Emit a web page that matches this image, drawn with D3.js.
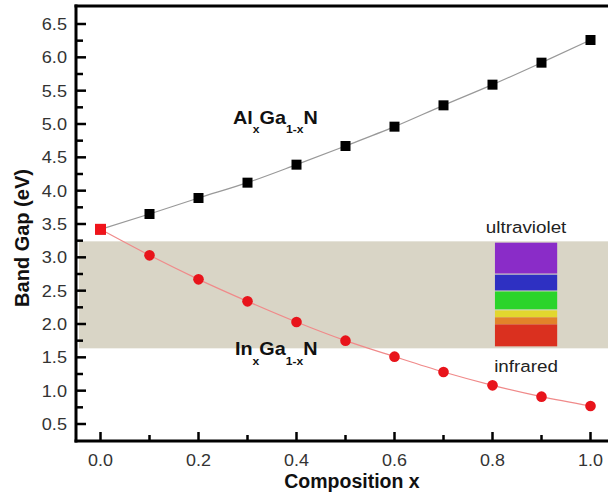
<!DOCTYPE html>
<html><head><meta charset="utf-8">
<script src="https://cdn.jsdelivr.net/npm/d3@7"></script>
<style>body{margin:0;background:#fff}svg{display:block}</style>
</head><body>
<script>
const composition = [0,0.1,0.2,0.3,0.4,0.5,0.6,0.7,0.8,0.9,1.0];
const alGaN = [3.42,3.65,3.89,4.12,4.39,4.67,4.96,5.28,5.59,5.92,6.26];
const inGaN = [3.42,3.03,2.67,2.34,2.03,1.75,1.51,1.28,1.08,0.91,0.77];
const xTicks = [0,0.2,0.4,0.6,0.8,1.0];
const yTicks = [0.5,1.0,1.5,2.0,2.5,3.0,3.5,4.0,4.5,5.0,5.5,6.0,6.5];
const visibleBand = [1.635, 3.24];
const spectrumBands = [
  {lo:2.757,hi:3.22,color:"#8a2cc8"},
  {lo:2.503,hi:2.74,color:"#2e30c2"},
  {lo:2.22,hi:2.488,color:"#2bd42b"},
  {lo:2.1,hi:2.204,color:"#e2d72e"},
  {lo:1.994,hi:2.1,color:"#e2822a"},
  {lo:1.665,hi:1.994,color:"#da301f"}
];
const spectrumX = [0.805, 0.932];

(function(){
const W=608,H=494;
const svg=d3.select("body").append("svg").attr("width",W).attr("height",H)
  .style("font-family","'Liberation Sans', Arial, sans-serif");
const x=d3.scaleLinear().domain([0,1]).range([100.5,590.5]);
const y=d3.scaleLinear().domain([0.5,6.5]).range([424,24]);
const pL=76, pT=6, pB=441, pR=608;
const tr=(a,b,s)=>`translate(${a},${b}) scale(${s},1)`;

svg.append("rect").attr("x",79).attr("width",pR-79)
  .attr("y",y(visibleBand[1])).attr("height",y(visibleBand[0])-y(visibleBand[1]))
  .attr("fill","#d9d5c6");
svg.selectAll(".sp").data(spectrumBands).enter().append("rect")
  .attr("x",x(spectrumX[0])).attr("width",x(spectrumX[1])-x(spectrumX[0]))
  .attr("y",d=>y(d.hi)).attr("height",d=>y(d.lo)-y(d.hi)).attr("fill",d=>d.color);
const cx=(x(spectrumX[0])+x(spectrumX[1]))/2;
svg.append("text").attr("transform",tr(cx,233,1.14))
  .attr("text-anchor","middle").attr("font-size",16.5).attr("fill","#222").text("ultraviolet");
svg.append("text").attr("transform",tr(cx,372,1.14))
  .attr("text-anchor","middle").attr("font-size",16.5).attr("fill","#222").text("infrared");

const line=d3.line().x((d,i)=>x(composition[i])).y(d=>y(d)).curve(d3.curveMonotoneX);
svg.append("path").attr("d",line(alGaN)).attr("fill","none").attr("stroke","#999").attr("stroke-width",1.2);
svg.append("path").attr("d",line(inGaN)).attr("fill","none").attr("stroke","#f08a8a").attr("stroke-width",1.2);

svg.selectAll(".al").data(alGaN).enter().append("rect")
  .attr("x",(d,i)=>x(composition[i])-5).attr("y",d=>y(d)-5).attr("width",10).attr("height",10).attr("fill","#000");
svg.selectAll(".in").data(inGaN.slice(1)).enter().append("circle")
  .attr("cx",(d,i)=>x(composition[i+1])).attr("cy",d=>y(d)).attr("r",5.3).attr("fill","#e8141b");
svg.append("rect").attr("x",x(composition[0])-5.5).attr("y",y(inGaN[0])-5.5).attr("width",11).attr("height",11).attr("fill","#f0141b");

const ax=svg.append("g").attr("stroke","#000");
ax.append("line").attr("x1",pL).attr("x2",pL).attr("y1",pT-1.5).attr("y2",pB+1.5).attr("stroke-width",3);
ax.append("line").attr("x1",pL-1.5).attr("x2",pR).attr("y1",pB).attr("y2",pB).attr("stroke-width",3);
ax.append("line").attr("x1",pL-1.5).attr("x2",pR).attr("y1",pT).attr("y2",pT).attr("stroke-width",3);

const yMinor=d3.range(0.5,6.51,0.25);
ax.selectAll(".yt").data(yMinor).enter().append("line")
  .attr("x1",pL).attr("x2",d=>pL+(Math.abs(d*2-Math.round(d*2))<1e-6?10:7))
  .attr("y1",d=>y(d)).attr("y2",d=>y(d)).attr("stroke-width",2.5);
const xMinor=d3.range(0,1.001,0.1);
ax.selectAll(".xt").data(xMinor).enter().append("line")
  .attr("x1",d=>x(d)).attr("x2",d=>x(d))
  .attr("y1",pB).attr("y2",(d,i)=>pB-(i%2===0?9:6)).attr("stroke-width",2.5);

svg.selectAll(".yl").data(yTicks).enter().append("text")
  .attr("transform",d=>tr(67,y(d)+6,1.1)).attr("text-anchor","end")
  .attr("font-size",16.5).attr("fill","#333").text(d=>d.toFixed(1));
svg.selectAll(".xl").data(xTicks).enter().append("text")
  .attr("transform",d=>tr(x(d),466,1.12)).attr("text-anchor","middle")
  .attr("font-size",16).attr("fill","#333").text(d=>d.toFixed(1));

svg.append("text").attr("x",352).attr("y",488).attr("text-anchor","middle")
  .attr("font-size",19.5).attr("font-weight","bold").attr("fill","#111").text("Composition x");
svg.append("text").attr("transform","translate(29,238) rotate(-90)").attr("text-anchor","middle")
  .attr("font-size",20).attr("font-weight","bold").attr("fill","#111").text("Band Gap (eV)");

function formula(tx,ty,a){
  const t=svg.append("text").attr("transform",tr(tx,ty,1.1)).attr("font-size",18).attr("font-weight","bold").attr("fill","#111");
  t.append("tspan").text(a);
  t.append("tspan").attr("font-size",11).attr("dy",10).text("x");
  t.append("tspan").attr("dy",-10).text("Ga");
  t.append("tspan").attr("font-size",11).attr("dy",10).text("1-x");
  t.append("tspan").attr("dy",-10).text("N");
}
formula(233,123.5,"Al");
formula(235,355,"In");
})();
</script>
</body></html>
